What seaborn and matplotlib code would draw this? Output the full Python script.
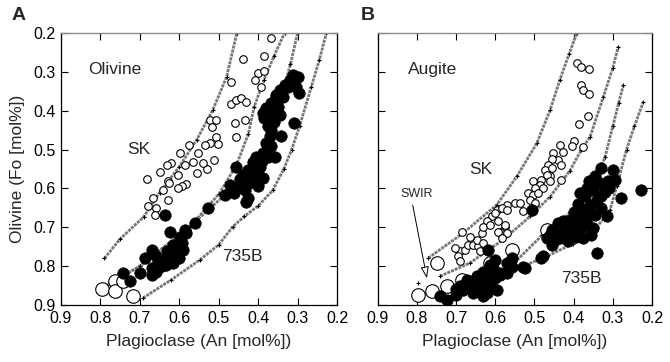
import matplotlib
matplotlib.use("Agg")
import matplotlib.pyplot as plt
import seaborn as sns
import numpy as np

# ---------------- data ----------------
ticks = [0.9, 0.8, 0.7, 0.6, 0.5, 0.4, 0.3, 0.2]
tick_labels = ["0.9", "0.8", "0.7", "0.6", "0.5", "0.4", "0.3", "0.2"]

# Panel A (olivine) model curves
A_c1_x = [0.79, 0.75, 0.69, 0.65, 0.60, 0.556, 0.515, 0.48, 0.454]
A_c1_y = [0.78, 0.73, 0.673, 0.611, 0.544, 0.475, 0.398, 0.313, 0.20]
A_c2_x = [0.80, 0.70, 0.573, 0.50, 0.455, 0.425, 0.41, 0.385, 0.36, 0.333]
A_c2_y = [0.86, 0.80, 0.698, 0.615, 0.54, 0.46, 0.39, 0.32, 0.26, 0.20]
A_c3_x = [0.80, 0.70, 0.573, 0.489, 0.43, 0.379, 0.36, 0.34, 0.318, 0.30]
A_c3_y = [0.86, 0.80, 0.698, 0.621, 0.569, 0.526, 0.45, 0.36, 0.28, 0.20]
A_c4_x = [0.692, 0.62, 0.548, 0.50, 0.464, 0.435, 0.40, 0.363, 0.335, 0.315, 0.295, 0.265, 0.245, 0.227]
A_c4_y = [0.882, 0.835, 0.784, 0.745, 0.698, 0.672, 0.645, 0.605, 0.55, 0.50, 0.44, 0.338, 0.27, 0.20]

# Panel A SK (small open circles)
A_sk_x = [0.367, 0.384, 0.438, 0.468, 0.400, 0.384, 0.409, 0.392, 0.468, 0.457,
          0.443, 0.432, 0.434, 0.459, 0.455, 0.523, 0.506, 0.518, 0.508, 0.523,
          0.535, 0.552, 0.513, 0.502, 0.575, 0.599, 0.620, 0.586, 0.565, 0.630,
          0.649, 0.603, 0.628, 0.683, 0.582, 0.592, 0.556, 0.530, 0.540, 0.666,
          0.641, 0.680, 0.658, 0.662, 0.628, 0.625, 0.604]
A_sk_y = [0.214, 0.259, 0.268, 0.327, 0.302, 0.299, 0.321, 0.338, 0.383, 0.372,
          0.367, 0.377, 0.424, 0.431, 0.467, 0.424, 0.425, 0.442, 0.468, 0.482,
          0.488, 0.509, 0.528, 0.485, 0.488, 0.509, 0.535, 0.539, 0.531, 0.539,
          0.557, 0.565, 0.582, 0.575, 0.588, 0.595, 0.561, 0.550, 0.535, 0.624,
          0.604, 0.645, 0.651, 0.668, 0.629, 0.587, 0.600]

# Panel A SWIR (large open circles)
A_swir_x = [0.797, 0.763, 0.763, 0.717, 0.742]
A_swir_y = [0.858, 0.837, 0.865, 0.876, 0.838]

# Panel A 735B (filled circles)
A_735_x = [0.312, 0.300, 0.320, 0.304, 0.296, 0.333, 0.345, 0.337, 0.354, 0.367,
           0.358, 0.380, 0.388, 0.345, 0.367, 0.384, 0.308, 0.367, 0.342, 0.371,
           0.380, 0.367, 0.388, 0.375, 0.358, 0.405, 0.413, 0.396, 0.455, 0.426,
           0.439, 0.409, 0.388, 0.422, 0.447, 0.401, 0.472, 0.434, 0.485, 0.460,
           0.426, 0.430, 0.350, 0.360, 0.375, 0.355, 0.325, 0.390, 0.415, 0.400,
           0.435, 0.445, 0.637, 0.527, 0.561, 0.586, 0.624, 0.599, 0.594, 0.616,
           0.670, 0.687, 0.658, 0.641, 0.624, 0.607, 0.590, 0.616, 0.670, 0.658,
           0.645, 0.633, 0.670, 0.700, 0.742, 0.725, 0.582, 0.605, 0.630, 0.655,
           0.600, 0.615]
A_735_y = [0.308, 0.312, 0.321, 0.338, 0.355, 0.334, 0.347, 0.364, 0.368, 0.381,
           0.398, 0.394, 0.407, 0.411, 0.419, 0.419, 0.432, 0.449, 0.466, 0.466,
           0.483, 0.492, 0.509, 0.518, 0.518, 0.518, 0.531, 0.544, 0.544, 0.552,
           0.565, 0.569, 0.574, 0.586, 0.595, 0.595, 0.591, 0.603, 0.616, 0.612,
           0.625, 0.634, 0.390, 0.430, 0.440, 0.360, 0.340, 0.530, 0.560, 0.580,
           0.580, 0.575, 0.668, 0.651, 0.689, 0.706, 0.711, 0.724, 0.741, 0.745,
           0.758, 0.780, 0.775, 0.784, 0.775, 0.766, 0.758, 0.793, 0.805, 0.814,
           0.800, 0.796, 0.822, 0.818, 0.818, 0.839, 0.715, 0.750, 0.760, 0.790,
           0.780, 0.765]

# Panel B (augite) model curves
B_c1_x = [0.771, 0.682, 0.596, 0.545, 0.494, 0.46, 0.435, 0.412, 0.392]
B_c1_y = [0.779, 0.715, 0.642, 0.569, 0.484, 0.398, 0.32, 0.255, 0.20]
B_c2_x = [0.741, 0.665, 0.58, 0.511, 0.46, 0.41, 0.38, 0.358, 0.324, 0.30, 0.286]
B_c2_y = [0.826, 0.792, 0.732, 0.672, 0.621, 0.555, 0.50, 0.467, 0.364, 0.29, 0.235]
B_c3_x = [0.72, 0.62, 0.55, 0.48, 0.40, 0.35, 0.32, 0.30, 0.285, 0.273]
B_c3_y = [0.865, 0.835, 0.79, 0.72, 0.655, 0.59, 0.52, 0.44, 0.38, 0.334]
B_c4_x = [0.647, 0.596, 0.529, 0.469, 0.401, 0.341, 0.307, 0.290, 0.265, 0.245, 0.222]
B_c4_y = [0.869, 0.835, 0.80, 0.775, 0.742, 0.70, 0.655, 0.595, 0.50, 0.44, 0.377]
B_plus_x = [0.796]
B_plus_y = [0.843]

# Panel B SK (small open circles)
B_sk_x = [0.392, 0.380, 0.360, 0.380, 0.376, 0.360, 0.363, 0.386, 0.399, 0.405,
          0.377, 0.435, 0.428, 0.452, 0.439, 0.454, 0.431, 0.465, 0.473, 0.456,
          0.461, 0.482, 0.431, 0.469, 0.460, 0.503, 0.486, 0.499, 0.478, 0.516,
          0.503, 0.490, 0.511, 0.499, 0.550, 0.537, 0.529, 0.571, 0.596, 0.584,
          0.609, 0.592, 0.575, 0.588, 0.622, 0.686, 0.690, 0.703, 0.677, 0.694,
          0.690, 0.669, 0.656, 0.643, 0.647, 0.665, 0.631, 0.635, 0.639, 0.631,
          0.614, 0.601, 0.575, 0.571, 0.592, 0.584, 0.571]
B_sk_y = [0.278, 0.287, 0.293, 0.334, 0.347, 0.357, 0.413, 0.435, 0.479, 0.491,
          0.494, 0.488, 0.505, 0.508, 0.526, 0.525, 0.539, 0.539, 0.552, 0.548,
          0.567, 0.578, 0.578, 0.565, 0.582, 0.582, 0.591, 0.599, 0.599, 0.612,
          0.616, 0.612, 0.629, 0.638, 0.638, 0.638, 0.659, 0.642, 0.655, 0.651,
          0.672, 0.685, 0.698, 0.711, 0.685, 0.711, 0.762, 0.753, 0.758, 0.775,
          0.788, 0.745, 0.745, 0.749, 0.732, 0.724, 0.741, 0.715, 0.762, 0.698,
          0.694, 0.663, 0.694, 0.715, 0.711, 0.728, 0.655]

# Panel B SWIR (large open circles)
B_swir_x = [0.749, 0.796, 0.762, 0.724, 0.686, 0.614, 0.558, 0.469]
B_swir_y = [0.792, 0.874, 0.865, 0.852, 0.835, 0.792, 0.758, 0.706]

# Panel B 735B (filled circles)
B_735_x = [0.329, 0.299, 0.346, 0.333, 0.312, 0.295, 0.350, 0.320, 0.384, 0.278,
           0.227, 0.341, 0.358, 0.329, 0.375, 0.316, 0.346, 0.392, 0.409, 0.426,
           0.367, 0.350, 0.384, 0.401, 0.418, 0.443, 0.456, 0.435, 0.414, 0.375,
           0.469, 0.456, 0.341, 0.482, 0.524, 0.618, 0.614, 0.588, 0.571, 0.601,
           0.558, 0.507, 0.622, 0.639, 0.665, 0.682, 0.699, 0.724, 0.741, 0.656,
           0.631, 0.614, 0.601, 0.588, 0.571, 0.558, 0.605, 0.631, 0.647, 0.673,
           0.596, 0.529, 0.478, 0.360, 0.370, 0.390, 0.400, 0.420, 0.360, 0.330,
           0.310, 0.345, 0.365, 0.440, 0.460, 0.400, 0.380, 0.355, 0.395, 0.430,
           0.450, 0.640, 0.620, 0.660, 0.690, 0.700, 0.610, 0.622]
B_735_y = [0.548, 0.552, 0.569, 0.586, 0.582, 0.578, 0.604, 0.608, 0.612, 0.625,
           0.605, 0.629, 0.642, 0.651, 0.655, 0.672, 0.668, 0.672, 0.681, 0.685,
           0.694, 0.702, 0.706, 0.711, 0.715, 0.711, 0.706, 0.728, 0.736, 0.728,
           0.728, 0.745, 0.766, 0.779, 0.805, 0.758, 0.796, 0.818, 0.792, 0.784,
           0.779, 0.655, 0.856, 0.843, 0.852, 0.861, 0.874, 0.886, 0.878, 0.869,
           0.878, 0.843, 0.831, 0.822, 0.818, 0.801, 0.805, 0.814, 0.826, 0.835,
           0.861, 0.801, 0.775, 0.580, 0.620, 0.640, 0.690, 0.700, 0.670, 0.620,
           0.600, 0.590, 0.600, 0.690, 0.720, 0.660, 0.680, 0.720, 0.725, 0.700,
           0.735, 0.860, 0.830, 0.840, 0.850, 0.860, 0.820, 0.870]

# ---------------- style ----------------
sns.set_style("ticks")
plt.rcParams["font.family"] = ["Liberation Sans", "DejaVu Sans"]

fig = plt.figure(figsize=(6.7, 3.62), dpi=100)
axA = fig.add_axes([61 / 670, 1 - 305 / 362, 276 / 670, 272 / 362])
axB = fig.add_axes([377.7 / 670, 1 - 305 / 362, 274.3 / 670, 272 / 362])


def draw_curve(ax, xs, ys):
    sns.lineplot(x=xs, y=ys, ax=ax, sort=False, estimator=None,
                 color="#777777", lw=2.0, ls=(0, (1.1, 0.35)), zorder=1)
    ax.plot(xs, ys, ls="none", marker="+", ms=3.5, mew=0.8, color="black", zorder=1)


def style_axes(ax, show_ylabels):
    ax.set_xlim(0.9, 0.2)
    ax.set_ylim(0.9, 0.2)
    ax.set_xticks(ticks)
    ax.set_yticks(ticks)
    ax.set_xticklabels(tick_labels)
    if show_ylabels:
        ax.set_yticklabels(tick_labels)
    else:
        ax.set_yticklabels([])
    ax.tick_params(direction="in", length=5, width=0.8, top=True, right=True,
                   labelsize=11.5, colors="black", pad=4)
    for side in ["left", "right", "bottom"]:
        ax.spines[side].set_color("black")
        ax.spines[side].set_linewidth(0.9)
    ax.spines["top"].set_color("#8a8a8a")
    ax.spines["top"].set_linewidth(1.0)
    ax.set_xlabel("Plagioclase (An [mol%])", fontsize=12.5, labelpad=6)
    ax.set_ylabel("")


# ---------- Panel A ----------
for cx, cy in [(A_c1_x, A_c1_y), (A_c2_x, A_c2_y), (A_c3_x, A_c3_y), (A_c4_x, A_c4_y)]:
    draw_curve(axA, cx, cy)
sns.scatterplot(x=A_sk_x, y=A_sk_y, ax=axA, s=30, color="white", edgecolor="black",
                linewidth=0.8, zorder=3)
sns.scatterplot(x=A_swir_x, y=A_swir_y, ax=axA, s=95, color="white", edgecolor="black",
                linewidth=0.8, zorder=3)
sns.scatterplot(x=A_735_x, y=A_735_y, ax=axA, s=68, color="black", edgecolor="black",
                linewidth=0.5, zorder=4)
style_axes(axA, True)
axA.set_ylabel("Olivine (Fo [mol%])", fontsize=12.5, labelpad=6)
axA.text(0.832, 0.295, "Olivine", fontsize=12.5, va="center", ha="left")
axA.text(0.703, 0.50, "SK", fontsize=12.5, va="center", ha="center")
axA.text(0.439, 0.776, "735B", fontsize=12.5, va="center", ha="center")

# ---------- Panel B ----------
for cx, cy in [(B_c1_x, B_c1_y), (B_c2_x, B_c2_y), (B_c3_x, B_c3_y), (B_c4_x, B_c4_y)]:
    draw_curve(axB, cx, cy)
axB.plot(B_plus_x, B_plus_y, ls="none", marker="+", ms=3.5, mew=0.8, color="black")
sns.scatterplot(x=B_sk_x, y=B_sk_y, ax=axB, s=30, color="white", edgecolor="black",
                linewidth=0.8, zorder=3)
sns.scatterplot(x=B_swir_x, y=B_swir_y, ax=axB, s=95, color="white", edgecolor="black",
                linewidth=0.8, zorder=3)
sns.scatterplot(x=B_735_x, y=B_735_y, ax=axB, s=68, color="black", edgecolor="black",
                linewidth=0.5, zorder=4)
style_axes(axB, False)
axB.text(0.761, 0.293, "Augite", fontsize=12.5, va="center", ha="center")
axB.text(0.636, 0.552, "SK", fontsize=12.5, va="center", ha="center")
axB.text(0.379, 0.832, "735B", fontsize=12.5, va="center", ha="center")
axB.text(0.80, 0.614, "SWIR", fontsize=9, va="center", ha="center")
axB.annotate("", xy=(0.773, 0.838), xytext=(0.812, 0.636),
             arrowprops=dict(arrowstyle="-|>,head_length=0.7,head_width=0.25",
                             fc="white", ec="black", lw=0.7), zorder=5)

fig.text(12 / 670, 1 - 15 / 362, "A", fontsize=14, fontweight="bold", va="center", ha="left")
fig.text(361 / 670, 1 - 15 / 362, "B", fontsize=14, fontweight="bold", va="center", ha="left")

fig.savefig("out.png", dpi=100, facecolor="white")
